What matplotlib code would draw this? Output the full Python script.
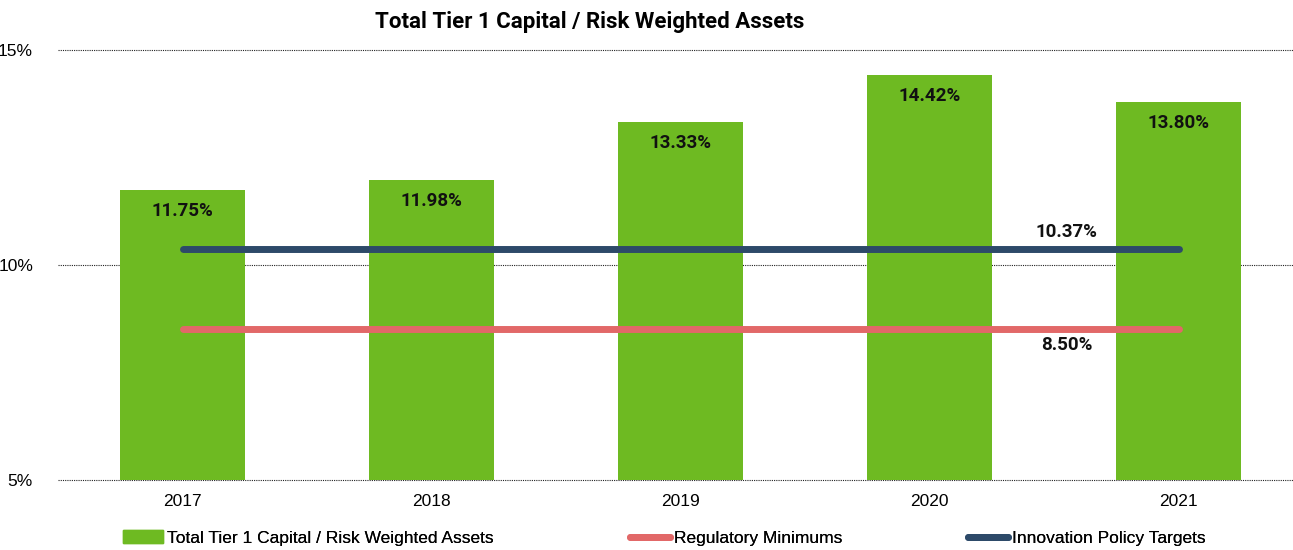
import matplotlib.pyplot as plt
from matplotlib.patches import Patch
from matplotlib.lines import Line2D
from matplotlib import font_manager

# Tier 1 capital ratio by year, plus policy reference levels
years = ['2017', '2018', '2019', '2020', '2021']
tier1_ratio = [11.75, 11.98, 13.33, 14.42, 13.80]
regulatory_min = 8.50
policy_target = 10.37
y_ticks = [5, 10, 15]

green = '#6EBA22'
red = '#E26868'
navy = '#2D4A69'

names = {f.name for f in font_manager.fontManager.ttflist}
narrow = 'Liberation Sans Narrow' if 'Liberation Sans Narrow' in names else 'Liberation Sans'
plt.rcParams['font.family'] = ['Roboto', 'DejaVu Sans']

fig = plt.figure(figsize=(12.93, 5.5), dpi=100)
# axes runs slightly past the right edge of the figure
ax = fig.add_axes([58 / 1293, 70 / 550, 1245 / 1293, 430 / 550])

x = list(range(len(years)))
ax.bar(x, tier1_ratio, width=0.5, color=green, zorder=2)
ax.plot([x[0], x[-1]], [policy_target] * 2, color=navy, lw=5,
        solid_capstyle='round', zorder=3)
ax.plot([x[0], x[-1]], [regulatory_min] * 2, color=red, lw=5,
        solid_capstyle='round', zorder=3)

for xi, v in zip(x, tier1_ratio):
    ax.annotate(f'{v:.2f}%', (xi, v), xytext=(0, -9), textcoords='offset points',
                ha='center', va='top', fontsize=13.5, fontweight='bold', color='#111111')

ax.annotate(f'{policy_target:.2f}%', (3.55, policy_target), xytext=(0, 6),
            textcoords='offset points', ha='center', va='bottom',
            fontsize=13.5, fontweight='bold', color='#111111')
ax.annotate(f'{regulatory_min:.2f}%', (3.55, regulatory_min), xytext=(0, -5),
            textcoords='offset points', ha='center', va='top',
            fontsize=13.5, fontweight='bold', color='#111111')

ax.set_xlim(-0.5, 4.5)
ax.set_ylim(5, 15)
ax.set_yticks(y_ticks)
ax.set_yticklabels([f'{t}%' for t in y_ticks], fontsize=12.5, family=narrow)
ax.set_xticks(x)
ax.set_xticklabels(years, fontsize=12.5, family=narrow)
ax.tick_params(length=0, pad=10)
ax.tick_params(axis='y', pad=18)
ax.yaxis.grid(True, linestyle=(0, (1, 1)), color='#222222', lw=0.8, zorder=0)
for gl in ax.get_ygridlines():
    gl.set_clip_on(False)
for s in ax.spines.values():
    s.set_visible(False)

fig.text(590 / 1293, 1 - 22 / 550, 'Total Tier 1 Capital / Risk Weighted Assets',
         ha='center', va='center', fontsize=16, fontweight='bold')

# one legend per entry so each can sit at its own spot along the bottom
entries = [
    (Patch(color=green), 'Total Tier 1 Capital / Risk Weighted Assets', 123),
    (Line2D([], [], color=red, lw=5, solid_capstyle='round'), 'Regulatory Minimums', 630),
    (Line2D([], [], color=navy, lw=5, solid_capstyle='round'), 'Innovation Policy Targets', 968),
]
for handle, label, left in entries:
    leg = fig.legend([handle], [label], loc='center left',
                     bbox_to_anchor=(left / 1293, 1 - 538 / 550),
                     frameon=False, borderpad=0, borderaxespad=0,
                     handlelength=2.3, handletextpad=0.25,
                     prop={'family': narrow, 'size': 12.5})
    fig.add_artist(leg)

fig.savefig('out.png', dpi=100)
